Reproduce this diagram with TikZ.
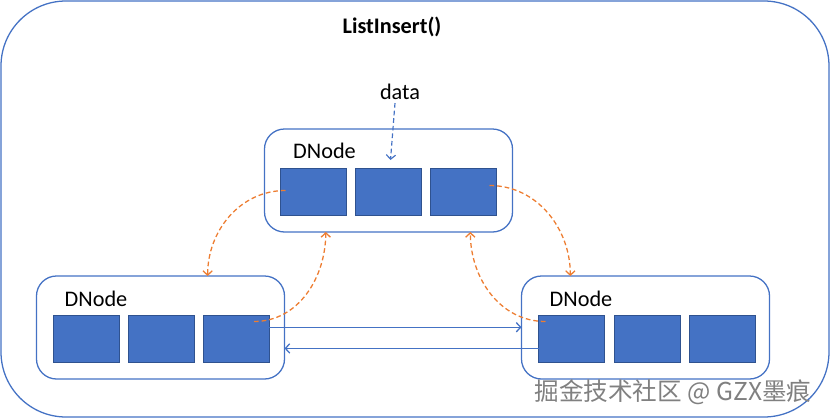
\documentclass[tikz,border=0pt]{standalone}
\usepackage{fontspec}
\setmainfont{Carlito}
\newfontfamily\cjkfont{Noto Sans CJK SC}
\usetikzlibrary{arrows.meta}
\usetikzlibrary{calc}
\definecolor{kasten}{RGB}{68,114,196}
\definecolor{kastenrand}{RGB}{47,82,143}
\definecolor{pfeil}{RGB}{237,125,49}
\colorlet{wasserzeichen}{black!50}

\tikzset{
  feld/.style={draw=kastenrand, fill=kasten, minimum width=1.98cm, minimum height=1.41cm, inner sep=0pt, outer sep=0pt},
  dnode/.style={draw=kasten, line width=1.1pt, rounded corners=0.6cm, minimum width=7.44cm, minimum height=3.09cm, inner sep=0pt, outer sep=0pt},
  zeiger/.style={pfeil, line width=1.1pt, dash pattern=on 4pt off 2.5pt, -{Straight Barb[length=1.3mm,width=2.8mm]}},
  verbindung/.style={kasten, line width=1.1pt, -{Straight Barb[length=1.3mm,width=2.8mm]}},
  beschriftung/.style={font=\fontsize{19}{23}\selectfont, inner sep=0pt}
}

\begin{document}
\begin{tikzpicture}[x=0.03cm, y=-0.03cm]

    \useasboundingbox (0,0) rectangle (830,419);
    \draw[kasten, line width=1.1pt, rounded corners=1.95cm] (1,1) rectangle (829,417);

    \node[beschriftung, font=\bfseries\fontsize{19}{23}\selectfont] (titel) at (392,27) {ListInsert()};

    \node[dnode] (oben) at (388.5,180.5) {};
    \node[dnode] (links) at (160.5,327.5) {};
    \node[dnode] (rechts) at (645.5,327.5) {};

    \node[beschriftung] (N1) at (324.5,151) {DNode};
    \node[beschriftung] (N2) at (96,299) {DNode};
    \node[beschriftung] (N3) at (581,299) {DNode};

				\foreach \x in {1,2,3}{
					\node[feld] (O\x) at (238.5+75*\x,191.5) {};
					\node[feld] (L\x) at (11+75*\x,339) {};
					\node[feld] (R\x) at (496+75.5*\x,339) {};
			}

    \node[beschriftung] (data) at (400,92) {data};
    \draw[kasten, line width=1pt, dash pattern=on 4pt off 2.5pt, -{Straight Barb[length=1.3mm,width=2.8mm]}] ($(data.south)+(-5,3)$) -- ($(O2.north)+(2,-8)$);

				\coordinate (hin) at ($(L3.north east)!.25!(L3.south east)$);
				\coordinate (rueck) at ($(R1.north west)!.7!(R1.south west)$);
				\draw[verbindung] (hin) -- (hin -| rechts.west);
				\draw[verbindung] (rueck) -- (rueck -| links.east);

				\draw[zeiger] ($(O1.west)+(5,-1)$) to[out=180,in=90] ($(links.north west)!.69!(links.north east)$);
				\draw[zeiger] ($(L3.north east)+(-15,6)$) to[out=0,in=-90] ($(oben.south west)!.247!(oben.south east)$);
				\draw[zeiger] ($(O3.east)+(-7,-6)$) to[out=0,in=90] ($(rechts.north west)!.197!(rechts.north east)$);
				\draw[zeiger] ($(R1.north west)+(7,6)$) to[out=180,in=-90] ($(oben.south west)!.83!(oben.south east)$);

    \node[font=\cjkfont\fontsize{21}{24}\selectfont, text=wasserzeichen, inner sep=0pt] (wz) at (673,392) {掘金技术社区 @ GZX墨痕};

\end{tikzpicture}
\end{document}
